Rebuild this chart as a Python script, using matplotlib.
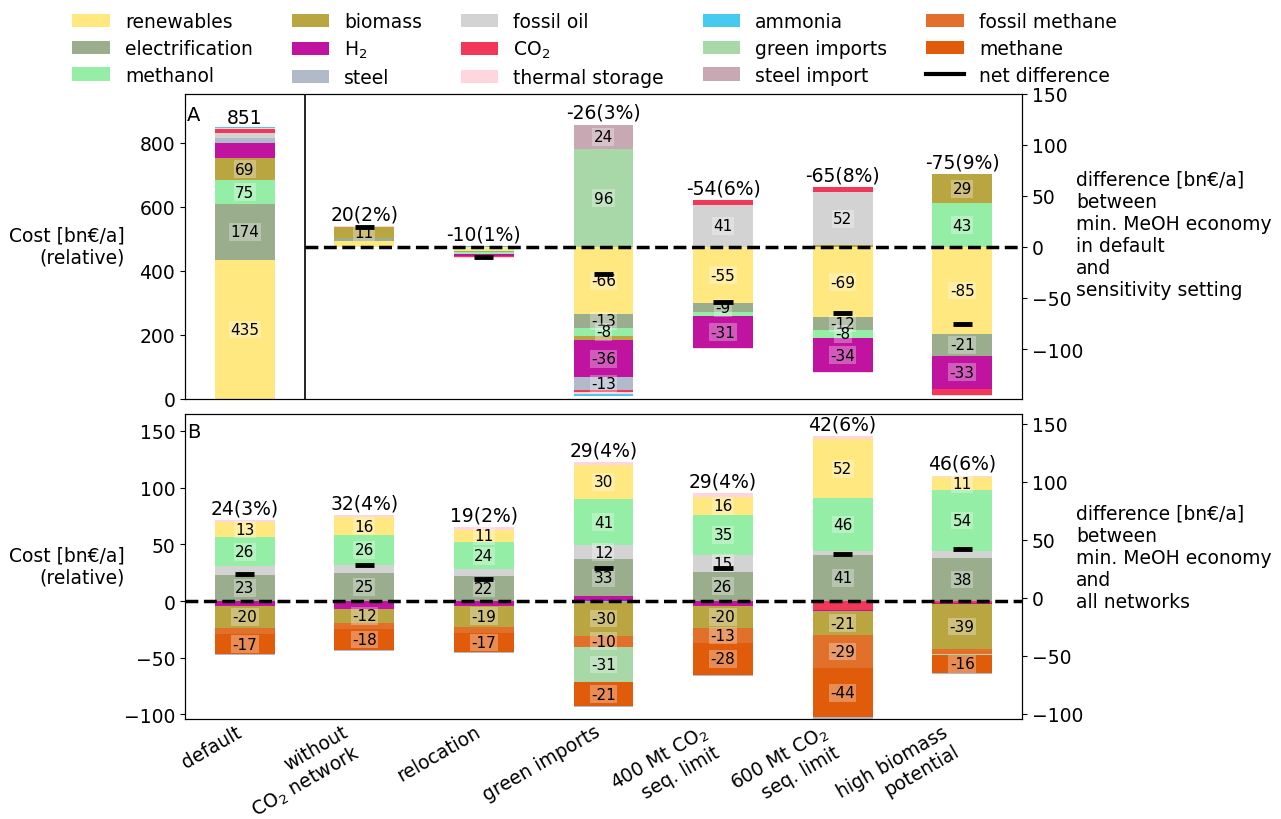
import matplotlib.pyplot as plt
from matplotlib.patches import Patch
from matplotlib.lines import Line2D

plt.rcParams['font.size'] = 13.5

# carriers in legend order (panel A stacks in this order, panel B alphabetically)
techs = ["renewables", "electrification", "methanol", "biomass", "H2", "steel",
         "fossil oil", "CO2", "thermal storage", "ammonia", "green imports",
         "steel import", "fossil methane", "methane"]
tech_labels = ["renewables", "electrification", "methanol", "biomass", "H$_2$", "steel",
               "fossil oil", "CO$_2$", "thermal storage", "ammonia", "green imports",
               "steel import", "fossil methane", "methane"]
colors = ["#FFE880", "#9AAD8C", "#94EEA5", "#BAA641", "#BF13A0", "#B1BAC9",
          "#D3D3D3", "#F2385A", "#FFD5DE", "#46CAF0", "#A8D8A8",
          "#C8A8B2", "#E0702A", "#E05B0A"]

scenarios = ["default", "without\nCO$_2$ network", "relocation", "green imports",
             "400 Mt CO$_2$\nseq. limit", "600 Mt CO$_2$\nseq. limit", "high biomass\npotential"]

# Panel A: absolute cost of default, then differences to default (bn€/a)
default_cost = [435, 174, 75, 69, 47, 15, 15, 13, 5, 3, 0, 0, 0, 0]
a_without_co2 = [6, 3, 0, 11, -0.5, 0, 0, 0, 0.5, 0, 0, 0, 0, 0]
a_relocation = [-3.5, -1.5, -2, 0, -1.5, 0, 0, -1.5, -0.5, 0.5, 0, 0, 0, 0]
a_green_imports = [-66, -13, -8, -4.5, -36, -13, 0, -2, -1.5, -2, 96, 24, 0, 0]
a_400mt = [-55, -9, -4, 0, -31, 0, 41.4, 4.6, -1, 0, 0, 0, 0, 0]
a_600mt = [-69, -12, -8, 1.5, -34, 0, 52, 5.5, -1, 0, 0, 0, 0, 0]
a_high_bio = [-85.4, -21, 42.7, 28.7, -33, 0, 0, -6, -1, 0, 0, 0, 0, 0]

# Panel B: difference min. MeOH economy vs all networks (bn€/a)
b_default = [13, 23, 26, -20, -4, -1, 7.5, 0, 2, 0, -0.5, 0, -5, -17]
b_without_co2 = [16, 25, 26, -12, -7, -1, 7, 0, 2, 0, 0, 0, -6, -18]
b_relocation = [11, 22, 24, -19, -4, -1, 6, 0, 2, 0, 0, 0, -5, -17]
b_green_imports = [30, 33, 41, -30, 4, -1, 12, 0, 2.5, -0.5, -31, 0, -10, -21]
b_400mt = [16, 26, 35, -20, -4, -1, 15, 0, 3, 0, 0, 0, -13, -28]
b_600mt = [52, 41, 46, -21, -1.5, -1, 3.5, -7.5, 3, 0, 0, 0, -29, -43.6]
b_high_bio = [11, 38, 54, -39, -1.5, -1, 6, -1.5, 1.5, 0, -0.5, 0, -5, -16]
pct_b = [3, 4, 2, 4, 4, 6, 6]

diffs_a = [a_without_co2, a_relocation, a_green_imports, a_400mt, a_600mt, a_high_bio]
diffs_b = [b_default, b_without_co2, b_relocation, b_green_imports, b_400mt, b_600mt, b_high_bio]

W = 0.5


def seg_label(ax, x, y, v):
    ax.text(x, y, f"{v:.0f}", ha="center", va="center", fontsize=11, zorder=5,
            bbox=dict(facecolor="white", alpha=0.3, edgecolor="none", pad=1))


def stacked_bar(ax, x, vals, order):
    pos, neg = 0, 0
    for i in order:
        v = vals[i]
        if v == 0:
            continue
        if v > 0:
            ax.bar(x, v, W, bottom=pos, color=colors[i], zorder=2)
            if abs(v) >= 8:
                seg_label(ax, x, pos + v / 2, v)
            pos += v
        else:
            ax.bar(x, v, W, bottom=neg, color=colors[i], zorder=2)
            if abs(v) >= 8:
                seg_label(ax, x, neg + v / 2, v)
            neg += v
    net = pos + neg
    ax.plot([x - 0.08, x + 0.08], [net, net], color="k", lw=3.5, solid_capstyle="butt", zorder=6)
    return pos, net


fig = plt.figure(figsize=(12.81, 8.2), dpi=100)
axA = fig.add_axes([0.1444, 0.5122, 0.6534, 0.372])
axB = fig.add_axes([0.1444, 0.122, 0.6534, 0.372])
axA2 = axA.twinx()
axB2 = axB.twinx()

# ---- panel A
legend_order = list(range(len(techs)))
total = sum(default_cost)
bottom = 0
for i in legend_order:
    v = default_cost[i]
    if v == 0:
        continue
    axA.bar(0, v, W, bottom=bottom, color=colors[i], zorder=2)
    if v >= 60:
        seg_label(axA, 0, bottom + v / 2, v)
    bottom += v
axA.text(0, total, f"{total:.0f}", ha="center", va="bottom", zorder=5)

for k, vals in enumerate(diffs_a):
    x = k + 1
    top, net = stacked_bar(axA2, x, vals, legend_order)
    pct = abs(net) / total * 100
    axA2.annotate(f"{net:.0f}({pct:.0f}%)", (x, top), xytext=(0, 2), textcoords="offset points",
                  ha="center", va="bottom", zorder=5)

axA2.plot([0.5, 6.5], [0, 0], color="k", ls="--", lw=2.5, zorder=7)
axA.axvline(0.5, color="k", lw=1.2)
axA.set_xlim(-0.5, 6.5)
axA.set_ylim(0, 953)
axA2.set_ylim(-149, 150)
axA.set_yticks([0, 200, 400, 600, 800])
axA2.set_yticks([-100, -50, 0, 50, 100, 150])
axA.set_xticks([])
axA.text(0.002, 0.934, "A", transform=axA.transAxes, ha="left", va="center", fontsize=14)
axA.set_ylabel("Cost [bn€/a]\n(relative)", rotation=0, ha="right", va="center", multialignment="right")
axA.yaxis.set_label_coords(-0.0717, 0.5)
axA2.set_ylabel("difference [bn€/a]\nbetween\nmin. MeOH economy\nin default\nand\nsensitivity setting",
                rotation=0, ha="left", va="center", multialignment="left")
axA2.yaxis.set_label_coords(1.0645, 0.54)

# ---- panel B (alphabetical stacking)
alpha_order = sorted(range(len(techs)), key=lambda i: techs[i])
for k, vals in enumerate(diffs_b):
    top, net = stacked_bar(axB, k, vals, alpha_order)
    axB.annotate(f"{net:.0f}({pct_b[k]}%)", (k, top), xytext=(0, 2), textcoords="offset points",
                 ha="center", va="bottom", zorder=5)

axB.axhline(0, color="k", ls="--", lw=2.5, zorder=7)
axB.set_xlim(-0.5, 6.5)
axB.set_ylim(-104, 165)
axB2.set_ylim(-104.3, 158.6)
axB.set_yticks([-100, -50, 0, 50, 100, 150])
axB2.set_yticks([-100, -50, 0, 50, 100, 150])
axB.set_xticks(range(len(scenarios)))
axB.set_xticklabels(scenarios, rotation=30, ha="right")
axB.tick_params(axis="x", length=0, pad=2)
axB.text(0.002, 0.944, "B", transform=axB.transAxes, ha="left", va="center", fontsize=14)
axB.set_ylabel("Cost [bn€/a]\n(relative)", rotation=0, ha="right", va="center", multialignment="right")
axB.yaxis.set_label_coords(-0.0717, 0.5)
axB2.set_ylabel("difference [bn€/a]\nbetween\nmin. MeOH economy\nand\nall networks",
                rotation=0, ha="left", va="center", multialignment="left")
axB2.yaxis.set_label_coords(1.0645, 0.53)

handles = [Patch(facecolor=c) for c in colors] + [Line2D([], [], color="k", lw=3)]
fig.legend(handles, tech_labels + ["net difference"], loc="upper center",
           bbox_to_anchor=(0.4641, 1.005), ncol=5, frameon=False,
           labelspacing=0.42, columnspacing=2.07)

plt.savefig("out.png", dpi=100)
